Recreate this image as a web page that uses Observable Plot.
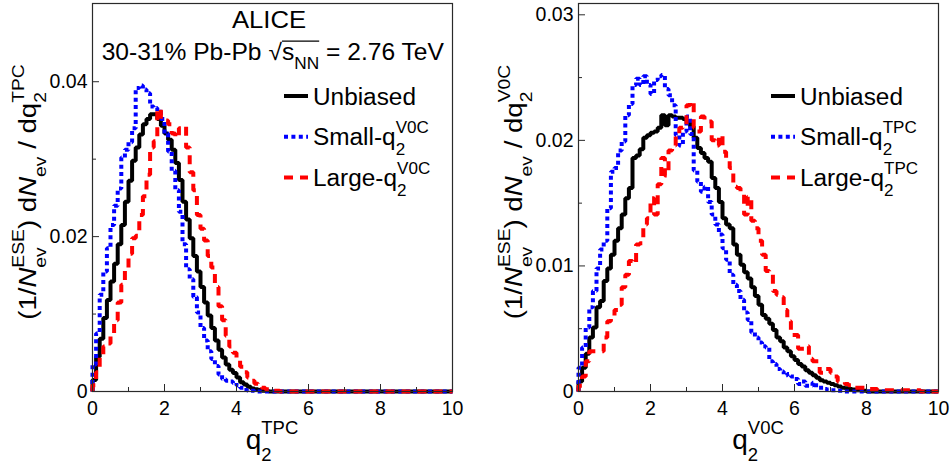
<!DOCTYPE html>
<html><head><meta charset="utf-8">
<script src="https://cdn.jsdelivr.net/npm/d3@7"></script>
<script src="https://cdn.jsdelivr.net/npm/@observablehq/plot@0.6"></script>
<style>
body{margin:0;background:#fff;}
#wrap{position:relative;width:950px;height:465px;overflow:hidden;}
#wrap svg{position:absolute;top:0;}
</style></head><body><div id="wrap"></div>
<script>
// ---------------- data (bin width 0.1, bins from 0 to 10) ----------------
const binWidth = 0.1;
const xRange = [0, 10];

// Left panel: distributions of q2^TPC
const leftUnbiased = [0.0015,0.0045,0.0068,0.0095,0.0118,0.0142,0.0165,0.019,0.0215,0.0245,
0.0272,0.0298,0.0315,0.0332,0.0345,0.0352,0.0358,0.0358,0.0352,0.0343,
0.0333,0.0325,0.0312,0.0295,0.0273,0.0245,0.0222,0.0198,0.0175,0.0155,
0.0135,0.0115,0.0098,0.0082,0.0066,0.0054,0.0044,0.0035,0.0028,0.0024,
0.0018,0.0012,0.0009,0.0006,0.0004,0.0003,0.0002,0.0001,0.0001,0,
0,0,0,0,0,0,0,0,0,0, 0,0,0,0,0,0,0,0,0,0, 0,0,0,0,0,0,0,0,0,0,
0,0,0,0,0,0,0,0,0,0, 0,0,0,0,0,0,0,0,0,0];
const leftSmall = [0.0035,0.0075,0.0125,0.0155,0.0185,0.0215,0.024,0.0262,0.0302,0.0312,
0.0322,0.034,0.0392,0.0395,0.039,0.0385,0.0368,0.0366,0.0362,0.0352,
0.0333,0.031,0.0285,0.026,0.0232,0.019,0.0158,0.0145,0.0122,0.0102,
0.0082,0.0066,0.0052,0.0042,0.0033,0.0022,0.0016,0.0014,0.0013,0.0011,
0.0008,0.0005,0.0002,0.0001,0.0001,0,0,0,0,0,
0,0,0,0,0,0,0,0,0,0, 0,0,0,0,0,0,0,0,0,0, 0,0,0,0,0,0,0,0,0,0,
0,0,0,0,0,0,0,0,0,0, 0,0,0,0,0,0,0,0,0,0];
const leftLarge = [0.0008,0.0025,0.0045,0.0058,0.0062,0.0075,0.0092,0.0115,0.0138,0.0158,
0.0178,0.0198,0.0201,0.0228,0.0252,0.028,0.0315,0.0323,0.0365,0.0352,
0.035,0.0345,0.0333,0.0328,0.034,0.0342,0.0315,0.0283,0.026,0.0228,
0.021,0.0195,0.0175,0.016,0.0135,0.011,0.0092,0.0072,0.0058,0.005,
0.0042,0.0032,0.0025,0.0018,0.0014,0.001,0.0007,0.0005,0.0003,0.0002,
0.0001,0.0001,0,0,0,0,0,0,0,0, 0,0,0,0,0,0,0,0,0,0, 0,0,0,0,0,0,0,0,0,0,
0,0,0,0,0,0,0,0,0,0, 0,0,0,0,0,0,0,0,0,0];

// Right panel: distributions of q2^V0C
const rightUnbiased = [0.0008,0.0019,0.003,0.0043,0.0051,0.0067,0.0072,0.0088,0.0098,0.0109,
0.012,0.013,0.0141,0.0154,0.0162,0.0186,0.0188,0.0193,0.0202,0.0204,
0.0206,0.0207,0.021,0.022,0.0212,0.022,0.0219,0.0218,0.0218,0.0217,
0.0215,0.0211,0.0202,0.0194,0.019,0.0186,0.0183,0.017,0.0162,0.0151,
0.0138,0.0133,0.013,0.0117,0.0109,0.0101,0.0095,0.009,0.0083,0.0076,
0.0069,0.0061,0.0058,0.0054,0.0049,0.0043,0.004,0.0035,0.0032,0.0028,
0.0025,0.0022,0.002,0.0017,0.0015,0.0013,0.0011,0.0009,0.0008,0.0007,
0.0006,0.0005,0.0004,0.0003,0.00025,0.0002,0.00015,0.0001,0.0001,0.00005,
0,0,0,0,0,0,0,0,0,0, 0,0,0,0,0,0,0,0,0,0];
const rightSmall = [0.0019,0.0035,0.0051,0.0067,0.008,0.0098,0.0113,0.012,0.0146,0.0175,
0.0178,0.0192,0.0199,0.022,0.0229,0.0244,0.0249,0.0244,0.0251,0.0244,
0.0237,0.0248,0.0251,0.0252,0.0241,0.0236,0.0228,0.0204,0.0196,0.0207,
0.0219,0.0205,0.0176,0.0167,0.0159,0.0163,0.0151,0.0141,0.0133,0.0125,
0.0114,0.0105,0.0093,0.0085,0.008,0.0073,0.0063,0.0057,0.0047,0.0043,
0.0039,0.0036,0.0035,0.0024,0.0022,0.0018,0.0016,0.0013,0.0014,0.0012,
0.001,0.0006,0.0008,0.00045,0.00045,0.0007,0.0003,0.0003,0.0002,0.00015,
0.0001,0.0001,0.00005,0.00005,0,0,0,0,0,0,
0,0,0,0,0,0,0,0,0,0, 0,0,0,0,0,0,0,0,0,0];
const rightLarge = [0.00045,0.0012,0.0024,0.0032,0.0032,0.0032,0.0032,0.0043,0.0056,0.0059,
0.0065,0.0069,0.0083,0.0093,0.0104,0.0102,0.0117,0.0118,0.0133,0.0138,
0.0154,0.0141,0.0165,0.0186,0.0172,0.0192,0.0196,0.0204,0.021,0.0212,
0.0228,0.0231,0.021,0.0207,0.0219,0.0215,0.0215,0.02,0.0196,0.0204,
0.0191,0.0186,0.0178,0.0163,0.0162,0.0158,0.0141,0.0155,0.0136,0.013,
0.012,0.0109,0.0096,0.0093,0.008,0.0077,0.0075,0.0065,0.0056,0.0045,
0.0045,0.0034,0.0034,0.0036,0.0026,0.0024,0.0024,0.0015,0.0018,0.0018,
0.0015,0.0012,0.0008,0.0008,0.0006,0.0005,0.0003,0.0003,0.0003,0.0003,
0.0003,0.0002,0.0002,0.00013,0.0001,0.0001,0.0001,0.0001,0.0001,0.0001,
0.0001,0.0001,0.0001,0.0001,0.0001,0,0,0,0,0];

const seriesNames = ["Unbiased", "Small", "Large"];
const seriesColors = {Unbiased: "#000000", Small: "#0000ff", Large: "#ff0000"};
const seriesDash = {Unbiased: null, Small: "4,3.4", Large: "9,7"};

const xMajorTicks = [0, 2, 4, 6, 8, 10];
const xMinorTicks = [1, 3, 5, 7, 9];
const leftYMajor = [0, 0.02, 0.04];
const leftYMinor = [0.01, 0.03];
const rightYMajor = [0, 0.01, 0.02, 0.03];
const rightYMinor = [0.005, 0.015, 0.025];
const leftYMax = 0.0501;
const rightYMax = 0.0309;

// ---------------- helpers ----------------
const FONT = '"Liberation Sans", Arial, Helvetica, sans-serif';
const ctx = document.createElement("canvas").getContext("2d");
function textW(str, size, italic) {
  ctx.font = `${italic ? "italic " : ""}${size}px ${FONT}`;
  return ctx.measureText(str).width;
}

function steps(values, series) {
  const pts = [{x: 0, y: 0, series}];
  values.forEach((v, i) => pts.push({x: i * binWidth, y: v, series}));
  pts.push({x: values.length * binWidth, y: values[values.length - 1], series});
  return pts;
}

function panel({data, yMax, yMajor, yMinor, marginLeft, marginRight}) {
  const lines = seriesNames.map((name, k) => Plot.line(steps(data[k], name), {
    x: "x", y: "y", curve: "step-after",
    stroke: seriesColors[name], strokeWidth: 4,
    strokeDasharray: seriesDash[name],
    strokeLinecap: "butt", strokeLinejoin: "miter"
  }));
  const fmt = d => d === 0 ? "0" : d.toFixed(2);
  return Plot.plot({
    width: 475, height: 465,
    marginLeft, marginRight, marginTop: 3, marginBottom: 74,
    x: {domain: xRange},
    y: {domain: [0, yMax]},
    style: {fontFamily: FONT, fontSize: "19.5px", color: "#000", background: "transparent", overflow: "visible"},
    marks: [
      ...lines,
      Plot.frame({stroke: "#2a2a2a", strokeWidth: 1.2}),
      Plot.axisX({ticks: xMajorTicks, tickSize: -7, tickPadding: 17, tickFormat: d => String(d), label: null, stroke: "#2a2a2a"}),
      Plot.axisX({ticks: xMinorTicks, tickSize: -4, tickPadding: 0, tickFormat: () => "", label: null, stroke: "#2a2a2a"}),
      Plot.axisY({ticks: yMajor, tickSize: -7, tickPadding: 12, tickFormat: fmt, label: null, stroke: "#2a2a2a"}),
      Plot.axisY({ticks: yMinor, tickSize: -4, tickPadding: 0, tickFormat: () => "", label: null, stroke: "#2a2a2a"})
    ]
  });
}

// rich text with sub/superscripts laid out by measuring
function rich(parent, tokens, {x, y, size, anchor = "start", rotate = 0, hscale = 1, ratio = 0.7}) {
  let cx = 0;
  const items = [];
  let olStart = null, olEnd = null;
  for (const tk of tokens) {
    if (tk.t !== undefined) {
      if (tk.ol && olStart === null) olStart = cx;
      items.push({str: tk.t, x: cx, dy: 0, size, italic: tk.i});
      cx += textW(tk.t, size, tk.i);
      if (tk.ol) olEnd = cx;
    } else {
      const s = size * ratio;
      let w = 0;
      if (tk.sub) { items.push({str: tk.sub, x: cx, dy: size * 0.42, size: s}); w = Math.max(w, textW(tk.sub, s)); }
      if (tk.sup) { items.push({str: tk.sup, x: cx, dy: -size * 0.52, size: s}); w = Math.max(w, textW(tk.sup, s)); }
      cx += w;
      if (tk.ol) olEnd = cx;
    }
  }
  const off = anchor === "middle" ? -cx / 2 : anchor === "end" ? -cx : 0;
  const g = parent.append("g").attr("transform", `translate(${x},${y}) rotate(${rotate}) scale(${hscale},1)`);
  const text = g.append("text").attr("font-family", FONT).attr("fill", "#000")
    .attr("text-anchor", "start")
    .attr("xml:space", "preserve").style("white-space", "pre");
  for (const it of items) {
    text.append("tspan").attr("x", it.x + off).attr("y", it.dy)
      .attr("font-size", it.size).attr("font-style", it.italic ? "italic" : null).text(it.str);
  }
  if (olStart !== null) {
    g.append("line").attr("x1", olStart + off).attr("x2", olEnd + off)
      .attr("y1", -size * 0.8).attr("y2", -size * 0.8)
      .attr("stroke", "#000").attr("stroke-width", 1.3);
  }
  return g;
}

function legend(svg, x0, entries) {
  entries.forEach((e, k) => {
    const y = 96 + k * 40.7;
    svg.append("line").attr("x1", x0).attr("x2", x0 + 24).attr("y1", y).attr("y2", y)
      .attr("stroke", seriesColors[e.key]).attr("stroke-width", 4)
      .attr("stroke-dasharray", seriesDash[e.key]);
    rich(svg, e.tokens, {x: x0 + 29, y: y + 8.5, size: 23, hscale: 1.06});
  });
}

// ---------------- build ----------------
const wrap = d3.select("#wrap");

const left = panel({data: [leftUnbiased, leftSmall, leftLarge], yMax: leftYMax,
  yMajor: leftYMajor, yMinor: leftYMinor, marginLeft: 92, marginRight: 23});
left.style.left = "0px";
wrap.node().appendChild(left);

const right = panel({data: [rightUnbiased, rightSmall, rightLarge], yMax: rightYMax,
  yMajor: rightYMajor, yMinor: rightYMinor, marginLeft: 103, marginRight: 12});
right.style.left = "475px";
wrap.node().appendChild(right);

const L = d3.select(left), R = d3.select(right);

// y titles
const yTitle = (tpcOrV0C) => [
  {t: "(1/"}, {t: "N", i: true}, {sub: "ev", sup: "ESE"}, {t: ") d"}, {t: "N", i: true},
  {sub: "ev"}, {t: " / dq"}, {sub: "2", sup: tpcOrV0C}
];
rich(L, yTitle("TPC"), {x: 36, y: 192, size: 24, anchor: "middle", rotate: -90, hscale: 1.15});
rich(R, yTitle("V0C"), {x: 47, y: 192, size: 24, anchor: "middle", rotate: -90, hscale: 1.15});

// x titles
rich(L, [{t: "q"}, {sub: "2", sup: "TPC"}], {x: 272, y: 449, size: 28, anchor: "middle", ratio: 0.66});
rich(R, [{t: "q"}, {sub: "2", sup: "V0C"}], {x: 283, y: 449, size: 28, anchor: "middle", ratio: 0.66});

// header text
rich(L, [{t: "ALICE"}], {x: 269, y: 28, size: 24, anchor: "middle", hscale: 1.07});
rich(L, [{t: "30-31% Pb-Pb "}, {t: "\u221A"}, {t: "s", ol: true}, {sub: "NN", ol: true}, {t: " = 2.76 TeV"}],
  {x: 273, y: 59.5, size: 23, anchor: "middle", hscale: 1.07});

// legends
legend(L, 284, [
  {key: "Unbiased", tokens: [{t: "Unbiased"}]},
  {key: "Small", tokens: [{t: "Small-q"}, {sub: "2", sup: "V0C"}]},
  {key: "Large", tokens: [{t: "Large-q"}, {sub: "2", sup: "V0C"}]}
]);
legend(R, 296, [
  {key: "Unbiased", tokens: [{t: "Unbiased"}]},
  {key: "Small", tokens: [{t: "Small-q"}, {sub: "2", sup: "TPC"}]},
  {key: "Large", tokens: [{t: "Large-q"}, {sub: "2", sup: "TPC"}]}
]);
</script></body></html>
